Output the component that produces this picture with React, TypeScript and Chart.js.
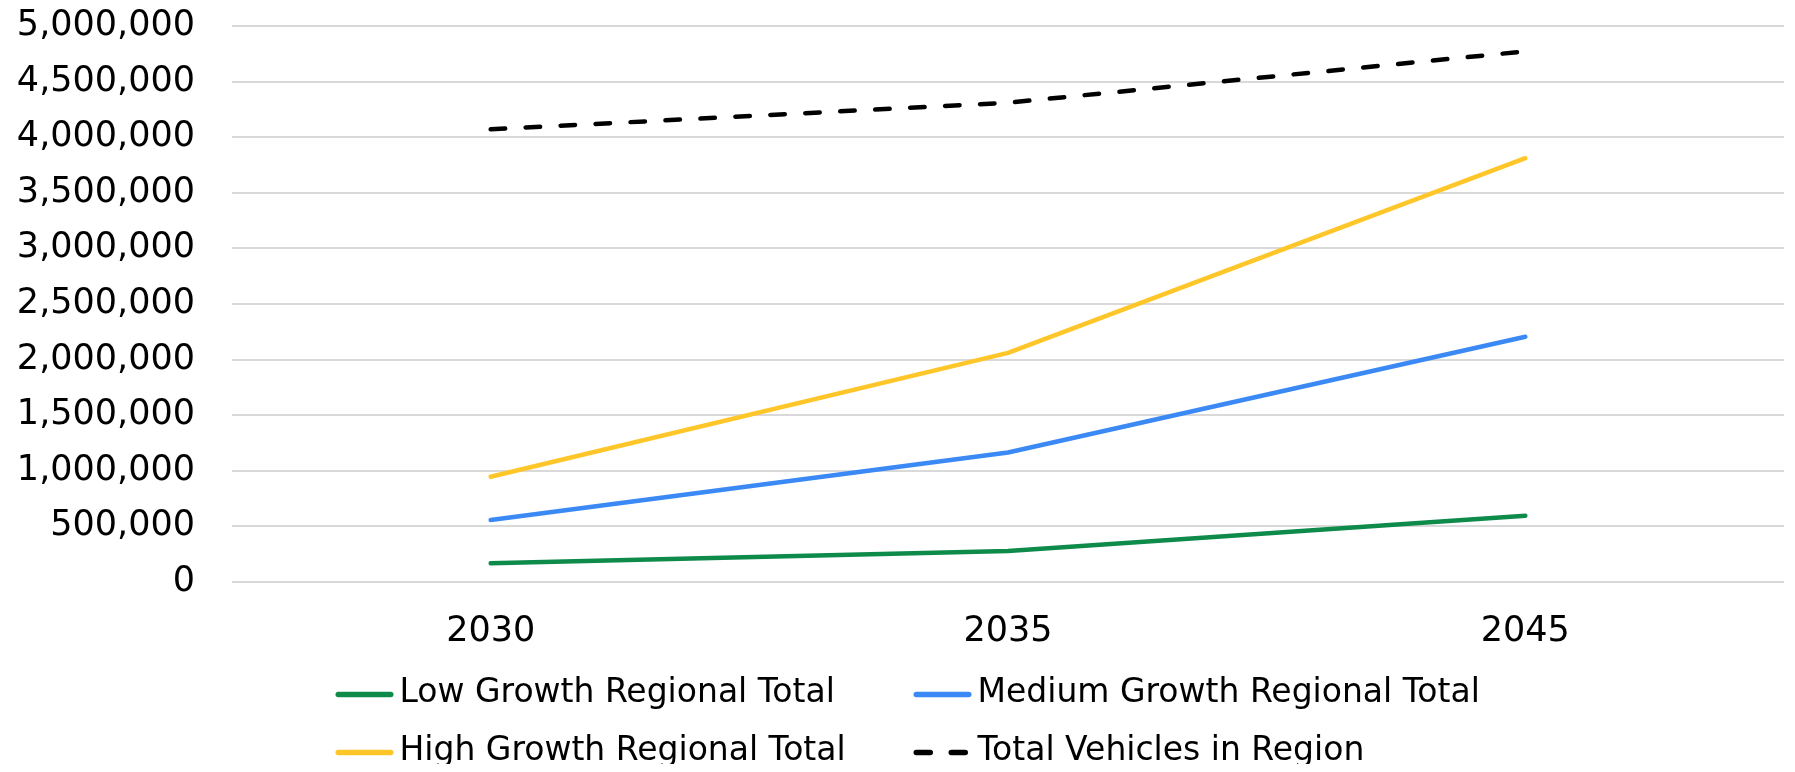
import React, { useEffect, useRef } from "react";
import { Chart, registerables } from "chart.js";

Chart.register(...registerables);

const categories = ["2030", "2035", "2045"];
const lowGrowth = [168000, 279000, 596000];
const mediumGrowth = [558000, 1165000, 2205000];
const highGrowth = [947000, 2060000, 3811000];
const totalVehicles = [4071000, 4310000, 4772000];
const seriesNames = [
  "Low Growth Regional Total",
  "Medium Growth Regional Total",
  "High Growth Regional Total",
  "Total Vehicles in Region",
];
const yMin = 0;
const yMax = 5000000;
const yStep = 500000;

const FONT = "'DejaVu Sans', sans-serif";

const gridLegend = {
  id: "gridLegend",
  afterDraw(chart: any) {
    const ctx = chart.ctx as CanvasRenderingContext2D;
    const ds = chart.data.datasets;
    const area = chart.chartArea;
    ctx.save();
    ctx.font = `33px ${FONT}`;
    ctx.textBaseline = "middle";
    ctx.textAlign = "left";
    const lineLen = 58;
    const gap = 6;
    const colX = [chart.width / 2 - 562, chart.width / 2 + 16];
    const rowY = [area.bottom + 111, area.bottom + 169];
    ds.forEach((d: any, i: number) => {
      const col = i % 2;
      const row = Math.floor(i / 2);
      const x = colX[col];
      const y = rowY[row];
      ctx.save();
      ctx.strokeStyle = d.borderColor;
      ctx.lineWidth = 5.5;
      ctx.lineCap = "round";
      ctx.setLineDash(d.borderDash && d.borderDash.length ? [14, 21] : []);
      ctx.beginPath();
      ctx.moveTo(x + 2.75, y + 1.5);
      ctx.lineTo(x + lineLen - 2.75, y + 1.5);
      ctx.stroke();
      ctx.restore();
      ctx.fillStyle = "#000";
      ctx.fillText(d.label, x + lineLen + gap, y);
    });
    ctx.restore();
  },
};

export default function App() {
  const ref = useRef<HTMLCanvasElement>(null);
  useEffect(() => {
    if (!ref.current) return;
    const mk = (label: string, data: number[], color: string, dash?: number[]) => ({
      label,
      data,
      borderColor: color,
      backgroundColor: color,
      borderWidth: 4.5,
      borderCapStyle: "round" as const,
      borderJoinStyle: "round" as const,
      borderDash: dash || [],
      pointRadius: 0,
      pointHoverRadius: 0,
      tension: 0,
      fill: false,
    });
    const chart = new Chart(ref.current, {
      type: "line",
      data: {
        labels: categories,
        datasets: [
          mk(seriesNames[0], lowGrowth, "#0E8A4B"),
          mk(seriesNames[1], mediumGrowth, "#3B89F5"),
          mk(seriesNames[2], highGrowth, "#FFC629"),
          mk(seriesNames[3], totalVehicles, "#000000", [14.5, 20.5]),
        ],
      },
      options: {
        responsive: false,
        animation: false,
        layout: { padding: { top: 18, right: 3, bottom: 0, left: 0 } },
        plugins: {
          legend: { display: false },
          tooltip: { enabled: false },
          title: { display: false },
        },
        scales: {
          x: {
            type: "category",
            offset: true,
            grid: { display: false, drawTicks: false },
            border: { display: false },
            ticks: {
              color: "#000",
              padding: 32,
              font: { family: FONT, size: 35, lineHeight: 1 },
            },
            afterFit: (s: any) => {
              s.height = 182;
            },
          },
          y: {
            min: yMin,
            max: yMax,
            grid: {
              color: "#d9d9d9",
              lineWidth: 2,
              drawTicks: true,
              tickLength: 37,
              tickColor: "rgba(0,0,0,0)",
            },
            border: { display: false },
            ticks: {
              stepSize: yStep,
              color: "#000",
              padding: 0,
              font: { family: FONT, size: 35, lineHeight: 1 },
              callback: (v: any) => Number(v).toLocaleString("en-US"),
            },
            afterFit: (s: any) => {
              s.width = 224;
            },
          },
        },
      },
      plugins: [gridLegend],
    });
    return () => chart.destroy();
  }, []);
  return (
    <div style={{ width: 1779, height: 756 }}>
      <canvas ref={ref} width={1779} height={756} style={{ display: "block" }} />
    </div>
  );
}
